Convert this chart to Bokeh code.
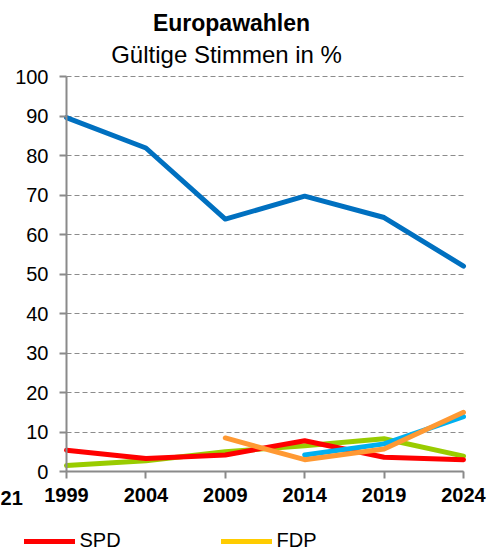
import math
from bokeh.plotting import figure
from bokeh.models import Range1d, FixedTicker, Label, Legend, LegendItem, Grid
from bokeh.embed import file_html
from bokeh.resources import INLINE

nan = float("nan")

title_text = "Europawahlen"
subtitle_text = "Gültige Stimmen in %"
years = [1999, 2004, 2009, 2014, 2019, 2024]
y_ticks = [0, 10, 20, 30, 40, 50, 60, 70, 80, 90, 100]

csu = [89.6, 81.9, 63.9, 69.7, 64.3, 52.0]
spd = [5.4, 3.3, 4.2, 7.8, 3.6, 3.0]
gruene = [1.5, 2.7, 5.0, 6.5, 8.3, 3.9]
afd = [nan, nan, nan, 4.2, 7.0, 13.9]
fw = [nan, nan, 8.5, 3.0, 5.7, 15.0]
fdp = [nan, nan, nan, nan, nan, nan]

FONT = "Liberation Sans"
AXIS_GRAY = "#8a8a8a"

# view window (frame fills the whole canvas; axes are pinned inside it)
p = figure(width=502, height=551,
           x_range=Range1d(1994.844, 2026.456), y_range=Range1d(-20.25, 119.24),
           output_backend="svg", toolbar_location=None,
           min_border=0, outline_line_color=None)

p.xgrid.visible = False
g = p.ygrid[0]
g.ticker = FixedTicker(ticks=y_ticks)
g.grid_line_color = "#8c8c8c"
g.grid_line_dash = "5 3"
g.grid_line_width = 1
if "cross_bounds" in Grid.properties():
    g.cross_bounds = (1999, 2024)

for ax in (p.xaxis[0], p.yaxis[0]):
    ax.axis_line_color = AXIS_GRAY
    ax.axis_line_width = 2
    ax.major_tick_line_color = AXIS_GRAY
    ax.major_tick_line_width = 2
    ax.major_tick_in = 0
    ax.major_tick_out = 7
    ax.minor_tick_line_color = None
    ax.major_label_text_font = FONT
    ax.major_label_text_font_size = "20px"
    ax.major_label_text_color = "black"

p.xaxis.ticker = FixedTicker(ticks=years)
p.xaxis.fixed_location = 0
p.xaxis.bounds = (1999, 2024)
p.xaxis.major_label_text_font_style = "bold"
p.xaxis.major_label_standoff = 9
p.yaxis.ticker = FixedTicker(ticks=y_ticks)
p.yaxis.fixed_location = 1999
p.yaxis.bounds = (0, 100)
p.yaxis.major_label_standoff = 11

kw = dict(line_width=5, line_join="round", line_cap="round")
p.line(years, csu, line_color="#0070C0", **kw)
p.line(years, gruene, line_color="#99CC00", **kw)
r_spd = p.line(years, spd, line_color="#FF0000", **kw)
p.line(years, afd, line_color="#00B0F0", **kw)
p.line(years, fw, line_color="#FF9933", **kw)
r_fdp = p.line(years, fdp, line_color="#FFCC00", **kw)

p.add_layout(Label(x=2009.39, y=113.5, text=title_text, text_align="center",
                   text_baseline="middle", text_font=FONT, text_font_style="bold",
                   text_font_size="23px", text_color="black"))
p.add_layout(Label(x=2009.08, y=105.6, text=subtitle_text, text_align="center",
                   text_baseline="middle", text_font=FONT,
                   text_font_size="24px", text_color="black"))
p.add_layout(Label(x=1996.25, y=-6.6, text="21", text_align="right",
                   text_baseline="middle", text_font=FONT, text_font_style="bold",
                   text_font_size="20px", text_color="black"))

legend = Legend(items=[LegendItem(label="SPD", renderers=[r_spd]),
                       LegendItem(label="FDP", renderers=[r_fdp])],
                location=(23.5, -1), orientation="horizontal",
                glyph_width=51, glyph_height=18, label_standoff=5,
                label_width=141, spacing=0, padding=0, margin=0,
                border_line_color=None, background_fill_alpha=0,
                label_text_font=FONT, label_text_font_size="20px",
                label_text_color="black")
p.add_layout(legend, "center")

open("out.html", "w").write(file_html(p, INLINE))
